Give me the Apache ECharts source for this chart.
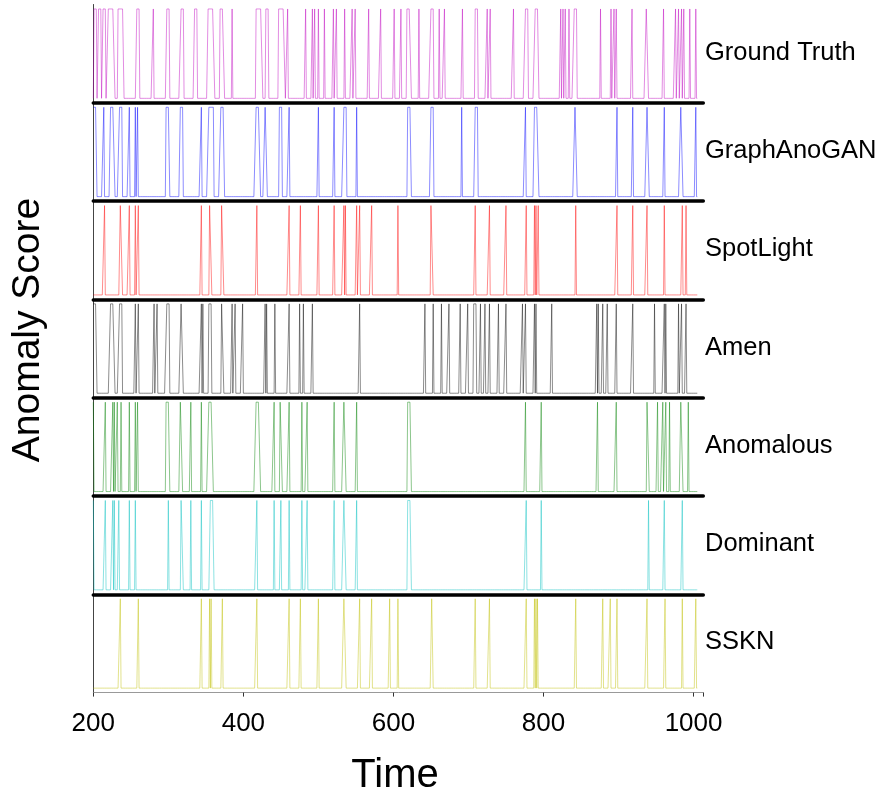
<!DOCTYPE html>
<html>
<head>
<meta charset="utf-8">
<script src="https://cdn.jsdelivr.net/npm/echarts@6/dist/echarts.min.js"></script>
<style>
html,body{margin:0;padding:0;background:#fff;}
#chart{width:886px;height:796px;}
</style>
</head>
<body>
<div id="chart"></div>
<script>
// ---- data (anomaly flags: single number = one-step spike, [a,b] = plateau) ----
const timeStart = 200;
const timeEnd = 1005;
const xTicks = [200, 400, 600, 800, 1000];
const names = ['Ground Truth', 'GraphAnoGAN', 'SpotLight', 'Amen', 'Anomalous', 'Dominant', 'SSKN'];
const colors = ['#bf00bf', '#0000ff', '#ff0000', '#000000', '#008000', '#00bfbf', '#bfbf00'];

const groundTruth = [[201,204],[207,210],[213,216],[220,228],[233,240],[258,261],280,[298,301],[317,320],[335,338],[353,361],[369,374],385,[417,425],[430,433],[447,455],459,483,492,495,500,508,520,524,535,545,549,567,583,601,610,[618,623],634,[650,653],661,668,692,[709,712],725,729,760,[776,779],[789,793],823,826,829,834,[841,844],876,890,894,897,918,[937,939],960,976,980,984,987,995,1003];
const graphAnoGAN = [[200,204],214,[223,228],[235,238],248,256,259,[297,301],[316,319],344,[354,360],[370,374],[417,422],[429,431],[448,451],461,500,521,[534,537],551,[619,623],[650,653],691,[709,712],776,[788,793],[842,844],898,919,[938,940],961,[983,985],1003];
const spotLight = [215,[236,238],248,256,260,344,[355,357],[371,373],418,461,476,500,521,534,536,551,555,571,606,[650,652],709,728,750,777,788,790,793,843,898,919,938,961,985,990];
const amen = [[200,204],[223,228],[235,238],256,260,281,285,[298,301],[317,319],344,346,[354,357],[371,373],385,389,399,429,431,442,461,475,480,492,555,642,653,664,674,689,699,[707,710],716,722,728,740,750,772,776,788,790,811,871,873,879,885,897,919,948,961,963,980,984,990];
const anomalous = [200,216,226,228,232,237,248,256,259,[297,301],[316,318],330,344,[354,359],[417,422],441,[449,451],461,478,485,521,[534,536],551,[619,623],776,797,872,897,[938,940],952,959,963,968,[983,985],993];
const dominant = [200,216,226,228,234,248,256,300,[317,319],330,344,[356,360],418,441,450,461,478,485,521,[534,536],551,[619,623],777,797,940,961,985];
const sskn = [236,260,344,355,357,372,418,461,476,500,[534,536],555,571,595,606,[651,652],709,728,777,788,790,792,843,879,889,898,938,962,985,1003];

const allFlags = [groundTruth, graphAnoGAN, spotLight, amen, anomalous, dominant, sskn];

// expand flag list into a 0/1 series over the time steps
function toSeries(flags) {
  const on = new Set();
  flags.forEach(f => {
    if (Array.isArray(f)) { for (let t = f[0]; t <= f[1]; t++) on.add(t); }
    else on.add(f);
  });
  const out = [];
  for (let t = timeStart; t <= timeEnd; t++) out.push([t, on.has(t) ? 1 : 0]);
  return out;
}

// ---- layout ----
const W = 886;
const FONT = 'Liberation Sans, Arial, sans-serif';
const left = 93.3, right = W - 703.3;
const top0 = 4.5, ph = 98.3;
const n = names.length;

const grids = [], xAxes = [], yAxes = [], series = [], graphics = [];
for (let i = 0; i < n; i++) {
  const last = i === n - 1;
  grids.push({ left: left, right: right, top: top0 + i * ph, height: ph, containLabel: false });
  xAxes.push({
    type: 'value', gridIndex: i, min: 200, max: 1013,
    interval: 200,
    axisLine: { show: true, onZero: false, lineStyle: last ? { color: '#999', width: 1 } : { color: '#000', width: 3.5 } },
    axisTick: { show: last, length: 4, lineStyle: { color: '#333' } },
    axisLabel: {
      show: last, fontSize: 26, color: '#000', margin: 18,
      fontFamily: FONT,
      customValues: xTicks,
      formatter: v => String(v)
    },
    splitLine: { show: false }
  });
  yAxes.push({
    type: 'value', gridIndex: i, min: -0.05, max: 1.05,
    axisLine: { show: true, onZero: false, lineStyle: { color: '#444', width: 1 } },
    axisTick: { show: false }, axisLabel: { show: false }, splitLine: { show: false }
  });
  series.push({
    type: 'line', xAxisIndex: i, yAxisIndex: i,
    data: toSeries(allFlags[i]),
    showSymbol: false, symbol: 'none',
    lineStyle: { color: colors[i], width: 1, opacity: 0.45 },
    itemStyle: { color: colors[i] },
    z: 1
  });
  graphics.push({
    type: 'text', x: 705, y: top0 + i * ph + ph / 2 - 1,
    style: { text: names[i], fontSize: 25.5, fill: '#000', fontFamily: FONT, textAlign: 'left', textVerticalAlign: 'middle' }
  });
}
graphics.push({
  type: 'text', x: 28, y: 330, rotation: Math.PI / 2,
  style: { text: 'Anomaly Score', fontSize: 39, fill: '#000', fontFamily: FONT, textAlign: 'center', textVerticalAlign: 'middle' }
});
graphics.push({
  type: 'text', x: 395, y: 776,
  style: { text: 'Time', fontSize: 40, fill: '#000', fontFamily: FONT, textAlign: 'center', textVerticalAlign: 'middle' }
});

const chart = echarts.init(document.getElementById('chart'), null, { renderer: 'canvas' });
chart.setOption({
  animation: false,
  backgroundColor: '#fff',
  grid: grids, xAxis: xAxes, yAxis: yAxes, series: series,
  graphic: graphics
});
</script>
</body>
</html>
